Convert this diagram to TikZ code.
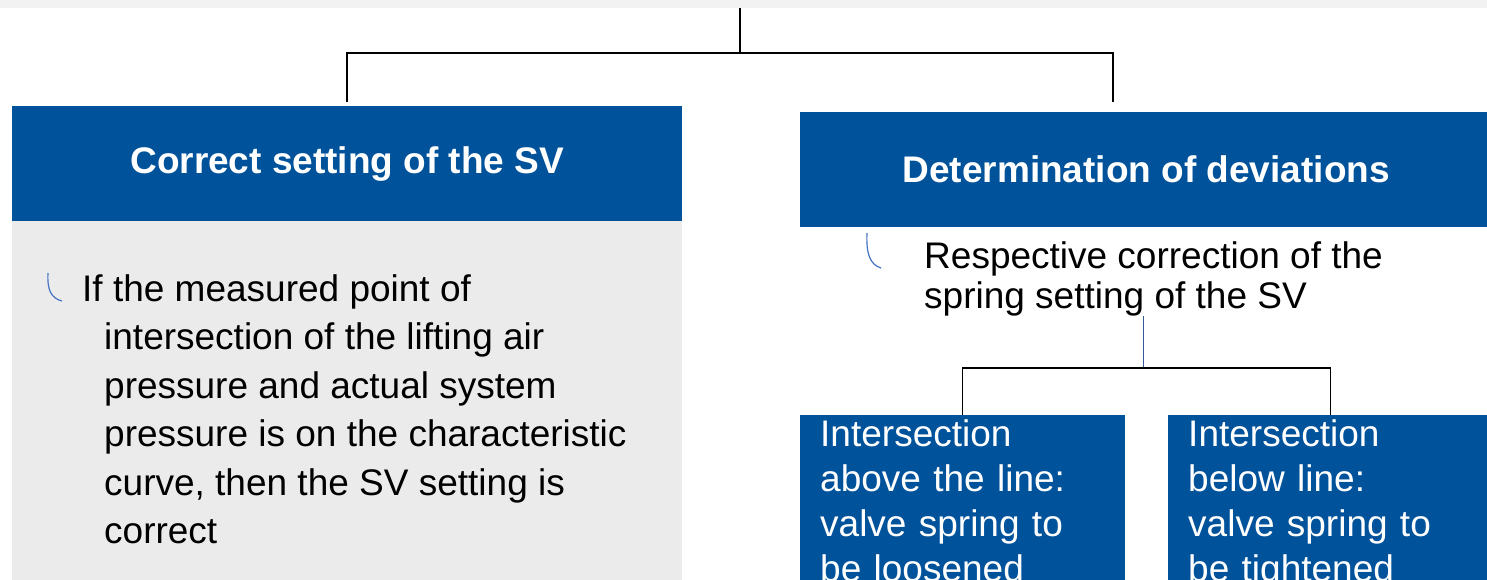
\documentclass[tikz,border=0pt]{standalone}
\usepackage{fontspec}
\setmainfont{Liberation Sans}
\definecolor{sinablue}{RGB}{0,82,155}
\definecolor{panelgray}{RGB}{235,235,235}
\definecolor{bandgray}{RGB}{242,242,242}
\definecolor{tickblue}{RGB}{68,114,196}
\tikzset{
  headbox/.style = {
    fill=sinablue, text=white, inner sep=0pt, anchor=north west,
    font=\fontsize{37}{45}\selectfont\bfseries
  },
  lowbox/.style = {
    fill=sinablue, text=white, anchor=north west, align=left,
    text width=285pt, inner xsep=20pt, inner ysep=4pt,
    font=\fontsize{37}{45}\selectfont
  },
  plaintext/.style = {anchor=north west, align=left, inner sep=0pt},
  link/.style = {draw=black, line width=1.5pt},
  bluelink/.style = {draw=tickblue!80!black, line width=1pt},
  tickline/.style = {draw=tickblue, line width=1.2pt}
}
\newcommand{\ticksign}[2]{\draw[tickline, shift={(#1)}] (0,0) .. controls (-1,#2*0.6) and (3,#2*0.9) .. (14,#2);}

\begin{document}
\begin{tikzpicture}[x=1pt,y=-1pt]
    \useasboundingbox (0,0) rectangle (1487,579);
    \clip (0,0) rectangle (1487,579);
    \fill[bandgray] (0,0) rectangle (1487,8);
    % upper level
    \node[headbox, minimum width=670pt, minimum height=115pt] (setting) at (12,106) {Correct setting of the SV};
    \node[headbox, minimum width=692pt, minimum height=115pt] (deviation) at (800,112) {Determination of deviations};
    \fill[panelgray] (setting.south west) rectangle (682,600);
    \ticksign{48,273}{28}
    \node[plaintext, font=\fontsize{37}{48.5}\selectfont] (rule) at (82,274) {If the measured point of\\
      \hspace*{22pt}intersection of the lifting air\\
      \hspace*{22pt}pressure and actual system\\
      \hspace*{22pt}pressure is on the characteristic\\
      \hspace*{22pt}curve, then the SV setting is\\
      \hspace*{22pt}correct};
    \ticksign{867,233}{35}
    \node[plaintext, font=\fontsize{37}{40}\selectfont] (correction) at (924,241) {Respective correction of the\\spring setting of the SV};
    % lower level
    \node[lowbox] (loosen) at (800,415) {Intersection\\above the line:\\valve spring to\\be loosened};
    \node[lowbox] (tighten) at (1168,415) {Intersection\\below line:\\valve spring to\\be tightened};
    % connectors
    \coordinate (root) at (740,8);
    \coordinate (fork) at (740,53);
    \coordinate (split) at (1143,368);
    \draw[link] (root) -- (fork);
    \draw[link, shorten >=4pt] (fork) -| (setting.north);
    \draw[link, shorten >=10pt] (fork) -| ([xshift=-33pt]deviation.north);
    \draw[bluelink] (correction.south -| split) -- (split);
    \draw[link] (loosen.north) |- (split) -| (tighten.north);
\end{tikzpicture}
\end{document}
